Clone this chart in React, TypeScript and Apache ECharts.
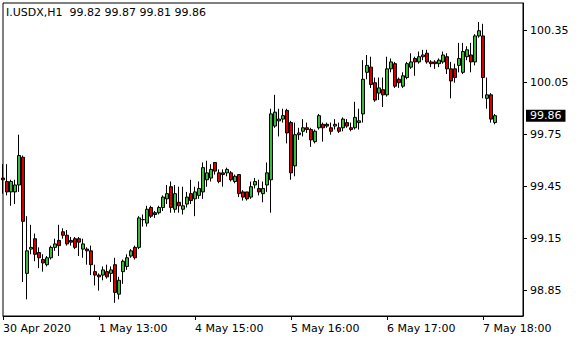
import { useEffect, useRef } from "react";
import * as echarts from "echarts";

const symbolName = "I.USDX,H1";
const lastQuote = ["99.82", "99.87", "99.81", "99.86"];

const opens = [
  99.50, 99.48, 99.42, 99.42, 99.46, 99.62, 98.95, 99.09, 99.15, 99.07,
  99.03, 99.00, 99.04, 99.10, 99.14, 99.19, 99.17, 99.14, 99.15, 99.15,
  99.09, 99.09, 99.08, 98.96, 98.94, 98.94, 98.96, 98.95, 99.00, 98.83,
  98.96, 98.99, 99.05, 99.10, 99.10, 99.26, 99.24, 99.33, 99.30, 99.30,
  99.33, 99.38, 99.45, 99.32, 99.36, 99.32, 99.35, 99.41, 99.38, 99.40,
  99.42, 99.49, 99.50, 99.59, 99.53, 99.53, 99.53, 99.53, 99.48, 99.52,
  99.42, 99.42, 99.39, 99.46, 99.44, 99.41, 99.46, 99.49, 99.80, 99.83,
  99.84, 99.89, 99.82, 99.57, 99.75, 99.77, 99.79, 99.78, 99.71, 99.79,
  99.81, 99.81, 99.79, 99.80, 99.79, 99.79, 99.82, 99.79, 99.79, 99.82,
  99.87, 100.11, 100.14, 100.05, 99.99, 100.01, 99.98, 100.13, 100.16, 100.07,
  100.03, 100.08, 100.14, 100.19, 100.17, 100.20, 100.22, 100.17, 100.17, 100.16,
  100.17, 100.20, 100.13, 100.13, 100.15, 100.11, 100.20, 100.21, 100.17, 100.32,
  100.32, 99.96, 99.98, 99.82,
];
const closes = [
  99.49, 99.42, 99.48, 99.46, 99.63, 99.25, 99.08, 99.10, 99.06, 99.04,
  99.01, 99.04, 99.10, 99.12, 99.11, 99.17, 99.12, 99.13, 99.10, 99.13,
  99.12, 99.08, 99.00, 98.94, 98.93, 98.97, 98.93, 98.97, 98.84, 98.91,
  99.02, 99.04, 99.08, 99.04, 99.27, 99.26, 99.32, 99.28, 99.29, 99.33,
  99.39, 99.41, 99.33, 99.41, 99.34, 99.34, 99.39, 99.37, 99.42, 99.44,
  99.56, 99.53, 99.55, 99.54, 99.48, 99.52, 99.55, 99.49, 99.51, 99.41,
  99.39, 99.38, 99.45, 99.48, 99.42, 99.44, 99.53, 99.87, 99.88, 99.84,
  99.86, 99.76, 99.53, 99.75, 99.76, 99.79, 99.78, 99.72, 99.77, 99.86,
  99.79, 99.80, 99.77, 99.81, 99.77, 99.84, 99.80, 99.78, 99.85, 99.83,
  100.07, 100.15, 100.04, 99.95, 100.02, 99.98, 100.13, 100.17, 100.03, 100.05,
  100.09, 100.16, 100.17, 100.17, 100.20, 100.21, 100.17, 100.16, 100.16, 100.18,
  100.21, 100.13, 100.06, 100.08, 100.19, 100.23, 100.24, 100.17, 100.32, 100.35,
  100.08, 99.98, 99.84, 99.86,
];
const lows = [
  99.41, 99.40, 99.34, 99.35, 99.42, 98.90, 98.80, 99.06, 99.02, 98.98,
  98.96, 98.99, 99.03, 99.08, 99.05, 99.15, 99.11, 99.11, 99.09, 99.05,
  99.04, 99.00, 98.94, 98.88, 98.85, 98.91, 98.92, 98.90, 98.78, 98.80,
  98.89, 98.97, 99.04, 99.03, 99.09, 99.22, 99.22, 99.27, 99.27, 99.29,
  99.31, 99.35, 99.30, 99.30, 99.30, 99.29, 99.33, 99.35, 99.28, 99.38,
  99.38, 99.45, 99.48, 99.52, 99.47, 99.45, 99.51, 99.48, 99.47, 99.39,
  99.37, 99.37, 99.38, 99.44, 99.40, 99.36, 99.42, 99.30, 99.79, 99.74,
  99.82, 99.70, 99.49, 99.51, 99.72, 99.74, 99.76, 99.68, 99.70, 99.78,
  99.71, 99.79, 99.75, 99.78, 99.76, 99.77, 99.79, 99.77, 99.78, 99.78,
  99.82, 100.07, 100.02, 99.94, 99.95, 99.91, 99.97, 100.11, 100.02, 100.02,
  100.02, 100.07, 100.13, 100.09, 100.16, 100.18, 100.16, 100.14, 100.13, 100.14,
  100.16, 100.10, 99.96, 100.05, 100.11, 100.10, 100.18, 100.11, 100.15, 100.31,
  99.96, 99.90, 99.82, 99.81,
];
const highs = [
  99.58, 99.58, 99.49, 99.49, 99.75, 99.63, 99.28, 99.23, 99.18, 99.10,
  99.06, 99.05, 99.11, 99.15, 99.23, 99.21, 99.20, 99.16, 99.16, 99.16,
  99.15, 99.10, 99.11, 99.00, 98.95, 98.99, 99.00, 98.99, 99.04, 98.93,
  99.03, 99.06, 99.09, 99.11, 99.28, 99.29, 99.34, 99.34, 99.31, 99.34,
  99.40, 99.46, 99.48, 99.46, 99.45, 99.45, 99.42, 99.49, 99.45, 99.48,
  99.59, 99.60, 99.58, 99.59, 99.55, 99.55, 99.56, 99.54, 99.52, 99.52,
  99.43, 99.42, 99.48, 99.50, 99.49, 99.48, 99.59, 99.90, 99.98, 99.90,
  99.90, 99.90, 99.83, 99.82, 99.79, 99.84, 99.82, 99.79, 99.78, 99.87,
  99.82, 99.82, 99.82, 99.84, 99.82, 99.85, 99.84, 99.82, 99.94, 99.90,
  100.18, 100.21, 100.20, 100.08, 100.08, 100.08, 100.20, 100.19, 100.17, 100.08,
  100.11, 100.17, 100.22, 100.20, 100.23, 100.24, 100.24, 100.18, 100.18, 100.19,
  100.23, 100.22, 100.17, 100.16, 100.28, 100.28, 100.26, 100.28, 100.33, 100.40,
  100.39, 100.08, 99.99, 99.87,
];

const emptySlots = 7;
const timeLabels = ["30 Apr 2020", "1 May 13:00", "4 May 15:00", "5 May 16:00", "6 May 17:00", "7 May 18:00"];
const barsPerLabel = 24;
const priceTicks = [98.85, 99.15, 99.45, 99.75, 100.05, 100.35];
const priceMin = 98.704;
const priceMax = 100.51;
const bidPrice = 99.86;

const FONT = "DejaVu Sans";
const BULL = "#3cb83c";
const BEAR = "#d40000";

export default function App() {
  const ref = useRef<HTMLDivElement>(null);
  useEffect(() => {
    if (!ref.current) return;
    const chart = echarts.init(ref.current, null, { renderer: "svg" });
    const total = opens.length + emptySlots;
    const cats = Array.from({ length: total }, (_, i) => String(i));
    const candles = opens.map((o, i) => [o, closes[i], lows[i], highs[i]]);
    const isLabelIdx = (idx: number) =>
      idx % barsPerLabel === 0 && idx / barsPerLabel < timeLabels.length;

    chart.setOption({
      animation: false,
      backgroundColor: "#fff",
      grid: {
        left: 3,
        top: 3,
        width: 520,
        height: 313,
        show: true,
        borderColor: "#000",
        borderWidth: 1,
        backgroundColor: "#fff",
      },
      graphic: [
        {
          type: "text",
          x: 6,
          y: 12.5,
          style: {
            text: symbolName + "  " + lastQuote.join(" "),
            font: `11px "${FONT}"`,
            fill: "#000",
            verticalAlign: "middle",
          },
        },
      ],
      xAxis: {
        type: "category",
        data: cats,
        boundaryGap: false,
        axisLine: { show: true, lineStyle: { color: "#000", width: 1 } },
        axisTick: {
          show: true,
          interval: (idx: number) => isLabelIdx(idx),
          length: 4,
          lineStyle: { color: "#000" },
        },
        axisLabel: {
          interval: (idx: number) => isLabelIdx(idx),
          formatter: (_v: string, idx: number) => timeLabels[idx / barsPerLabel] ?? "",
          align: "left",
          margin: 7,
          color: "#000",
          fontSize: 11,
          fontFamily: FONT,
        },
        splitLine: { show: false },
      },
      yAxis: {
        type: "value",
        position: "right",
        min: priceMin,
        max: priceMax,
        axisLine: { show: true, lineStyle: { color: "#000", width: 1 } },
        axisTick: {
          show: true,
          customValues: priceTicks,
          length: 4,
          lineStyle: { color: "#000" },
        },
        axisLabel: {
          customValues: priceTicks,
          formatter: (v: number) => v.toFixed(2),
          margin: 7,
          color: "#000",
          fontSize: 11,
          fontFamily: FONT,
        },
        splitLine: { show: false },
      },
      series: [
        {
          type: "candlestick",
          data: candles,
          barWidth: 3,
          itemStyle: {
            color: BULL,
            color0: BEAR,
            borderColor: "#000",
            borderColor0: "#000",
            borderWidth: 1,
          },
          markLine: {
            silent: true,
            symbol: ["none", "none"],
            lineStyle: { color: "rgba(0,0,0,0)", width: 1 },
            label: {
              position: "end",
              formatter: () => bidPrice.toFixed(2),
              color: "#fff",
              backgroundColor: "#000",
              padding: [1, 4, 0, 4],
              fontSize: 11,
              fontFamily: FONT,
              distance: 3,
            },
            data: [{ yAxis: bidPrice }],
          },
        },
      ],
    });
    return () => chart.dispose();
  }, []);
  return (
    <div
      ref={ref}
      style={{ position: "fixed", left: 0, top: 0, width: 580, height: 340, background: "#fff" }}
    />
  );
}
